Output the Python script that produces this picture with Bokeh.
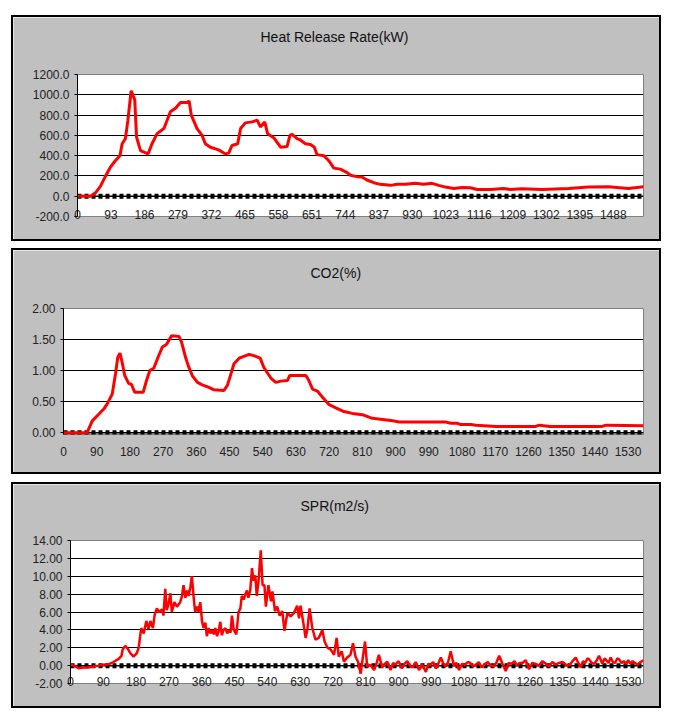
from bokeh.plotting import figure
from bokeh.models import FixedTicker, Span, PrintfTickFormatter, Range1d, Title
from bokeh.layouts import column
from bokeh.embed import file_html
from bokeh.resources import INLINE

# ---------------- data (time s, value) ----------------
hrr = [(0, 0), (36, 0), (50, 33), (64, 100), (78, 200), (92, 290), (105, 350), (118, 400),
       (124, 517), (133, 567), (140, 750), (149, 1040), (159, 950), (164, 583), (175, 450),
       (196, 417), (207, 517), (221, 617), (240, 667), (258, 833), (272, 867), (286, 923),
       (305, 923), (310, 940), (316, 800), (332, 667), (346, 600), (355, 517), (369, 483),
       (392, 457), (411, 417), (420, 425), (429, 500), (445, 517), (453, 667), (466, 723),
       (485, 733), (499, 750), (508, 683), (520, 733), (528, 617), (545, 577), (554, 533),
       (564, 483), (582, 490), (590, 600), (596, 610), (610, 567), (618, 557), (633, 517),
       (647, 510), (658, 483), (665, 410), (684, 400), (698, 350), (712, 277), (730, 267),
       (749, 233), (758, 207), (776, 193), (790, 190), (804, 160), (823, 133), (841, 117),
       (869, 107), (888, 117), (911, 117), (938, 127), (961, 117), (985, 127), (1003, 107),
       (1022, 90), (1045, 77), (1068, 87), (1091, 83), (1110, 67), (1147, 67), (1183, 77),
       (1202, 67), (1234, 73), (1290, 67), (1364, 77), (1419, 90), (1475, 93), (1530, 77),
       (1572, 93)]

co2 = [(0, 0), (64, 0), (78, 0.19), (96, 0.30), (109, 0.38), (118, 0.46), (132, 0.62),
       (141, 0.95), (147, 1.21), (153, 1.28), (159, 1.13), (166, 0.92), (177, 0.79),
       (184, 0.78), (193, 0.65), (216, 0.65), (225, 0.84), (234, 1.00), (245, 1.04),
       (256, 1.21), (268, 1.38), (279, 1.42), (293, 1.56), (313, 1.55), (320, 1.46),
       (331, 1.21), (338, 1.08), (349, 0.92), (363, 0.81), (376, 0.77), (394, 0.73),
       (408, 0.69), (435, 0.68), (444, 0.76), (451, 0.89), (462, 1.11), (476, 1.20),
       (489, 1.23), (503, 1.26), (516, 1.24), (533, 1.20), (543, 1.05), (562, 0.88),
       (575, 0.81), (589, 0.83), (607, 0.84), (613, 0.92), (657, 0.92), (665, 0.84),
       (675, 0.70), (688, 0.67), (702, 0.57), (720, 0.45), (738, 0.40), (760, 0.34),
       (783, 0.31), (810, 0.29), (837, 0.23), (865, 0.21), (892, 0.19), (910, 0.17),
       (1036, 0.17), (1050, 0.15), (1068, 0.15), (1077, 0.13), (1104, 0.13), (1118, 0.12),
       (1172, 0.10), (1280, 0.10), (1290, 0.12), (1318, 0.10), (1460, 0.10), (1470, 0.12),
       (1572, 0.11)]

spr = [(0, 0.1), (10, 0.0), (22, -0.3), (35, -0.2), (49, -0.2), (63, -0.1), (77, 0.0),
       (90, 0.1), (104, 0.15), (118, 0.4), (132, 0.75), (140, 1.1), (143, 1.8), (150, 2.2),
       (157, 1.9), (164, 1.4), (173, 1.0), (182, 1.4), (187, 2.0), (194, 4.2), (201, 3.6),
       (208, 5.0), (214, 4.1), (219, 5.0), (226, 4.2), (231, 5.7), (237, 6.4), (243, 6.0),
       (251, 6.3), (255, 5.6), (260, 8.6), (264, 6.2), (269, 6.9), (274, 8.1), (278, 6.0),
       (285, 7.1), (292, 6.6), (301, 7.1), (306, 7.8), (310, 9.0), (315, 7.6), (320, 8.4),
       (324, 7.8), (329, 8.8), (333, 10.0), (338, 7.6), (342, 6.0), (347, 6.6), (351, 6.0),
       (356, 7.1), (361, 4.9), (365, 4.2), (370, 4.8), (374, 3.3), (379, 4.2), (384, 3.6),
       (388, 4.0), (393, 3.5), (397, 4.2), (402, 3.3), (406, 3.8), (411, 4.9), (415, 3.4),
       (420, 4.0), (425, 4.2), (430, 3.6), (434, 4.0), (439, 3.7), (443, 5.6), (448, 4.0),
       (455, 3.5), (461, 6.0), (466, 6.4), (470, 7.8), (475, 7.4), (480, 8.0), (484, 8.4),
       (488, 7.6), (493, 8.4), (498, 10.9), (502, 9.5), (507, 10.1), (511, 7.8), (516, 9.5),
       (522, 12.9), (527, 9.0), (532, 9.0), (536, 6.6), (543, 9.0), (550, 7.2), (554, 8.3),
       (561, 6.1), (567, 6.6), (574, 5.6), (581, 6.1), (587, 3.9), (595, 5.9), (604, 5.5),
       (613, 5.9), (622, 6.7), (627, 5.3), (631, 6.7), (638, 5.0), (645, 3.1), (650, 4.1),
       (656, 6.4), (663, 4.3), (672, 2.9), (681, 3.1), (691, 4.0), (697, 2.7), (705, 2.0),
       (714, 1.8), (723, 1.2), (730, 3.1), (736, 1.0), (744, 1.6), (750, 0.45), (759, 0.9),
       (768, 1.2), (775, 2.5), (782, 1.0), (789, 0.4), (796, -0.9), (803, 1.2), (808, 2.7),
       (814, -0.1), (823, 0.1), (833, -0.5), (840, 0.3), (846, 1.2), (855, -0.2), (862, 0.2),
       (869, 0.45), (878, -0.5), (885, 0.3), (891, 0.1), (900, 0.5), (909, -0.3), (916, 0.2),
       (924, 0.5), (931, 0.0), (938, -0.2), (947, 0.4), (956, -0.5), (965, 0.1), (975, -0.7),
       (982, 0.2), (988, 0.1), (995, 0.4), (1002, -0.3), (1009, 0.2), (1016, 0.9), (1022, 0.3),
       (1029, -0.1), (1036, 0.4), (1043, 1.6), (1052, 0.0), (1059, 0.3), (1066, -0.5),
       (1074, 0.2), (1082, 0.1), (1090, 0.4), (1097, 0.3), (1104, -0.1), (1112, 0.1),
       (1120, 0.4), (1128, -0.2), (1137, 0.2), (1145, 0.4), (1152, 0.0), (1160, -0.1),
       (1168, 0.3), (1176, 1.1), (1185, 0.2), (1194, -0.6), (1202, 0.3), (1210, 0.2),
       (1218, 0.5), (1225, 0.0), (1232, 0.3), (1240, 0.3), (1249, 0.6), (1258, -0.4),
       (1267, 0.3), (1276, 0.2), (1285, 0.0), (1295, 0.5), (1304, 0.2), (1313, -0.1),
       (1322, 0.4), (1331, 0.1), (1340, 0.3), (1350, 0.4), (1359, 0.1), (1368, 0.0),
       (1377, 0.5), (1386, 0.9), (1393, 0.3), (1400, -0.2), (1406, 0.5), (1412, 0.3),
       (1418, 0.8), (1423, 0.7), (1430, 0.3), (1437, 0.2), (1444, 0.6), (1450, 1.1),
       (1459, 0.2), (1465, 0.8), (1470, 0.6), (1476, 0.3), (1482, 0.9), (1488, 0.4),
       (1494, 0.3), (1500, 0.8), (1505, 0.7), (1512, 0.3), (1518, 0.5), (1524, 0.2),
       (1530, 0.6), (1536, 0.2), (1542, 0.5), (1549, 0.3), (1556, 0.1), (1563, 0.4),
       (1572, 0.6)]

hrr_title = "Heat Release Rate(kW)"
co2_title = "CO2(%)"
spr_title = "SPR(m2/s)"
hrr_xticks = [0, 93, 186, 279, 372, 465, 558, 651, 744, 837, 930, 1023, 1116, 1209, 1302, 1395, 1488]
sec_xticks = [0, 90, 180, 270, 360, 450, 540, 630, 720, 810, 900, 990, 1080, 1170, 1260, 1350, 1440, 1530]
hrr_yticks = [-200, 0, 200, 400, 600, 800, 1000, 1200]
co2_yticks = [0, 0.5, 1.0, 1.5, 2.0]
spr_yticks = [-2, 0, 2, 4, 6, 8, 10, 12, 14]

FONT = "Liberation Sans"


def panel(title, data, xticks, yticks, ygrid, yrange, fmt, ml, mt, mb, xstand, toff, spacer, margin, lw):
    p = figure(width=650, height=226, x_range=Range1d(0, 1572), y_range=Range1d(*yrange),
               output_backend="svg", toolbar_location=None,
               min_border_left=ml, min_border_right=20, min_border_top=mt, min_border_bottom=mb,
               border_fill_color="#c0c0c0", background_fill_color="white",
               outline_line_color="#808080")
    p.styles = {"border": "2px solid black", "outline": "1px solid #f4f4f4",
                "outline-offset": "-3px"}
    p.margin = margin

    # blank spacer keeps the chart title well above the plot area
    p.add_layout(Title(text=" ", text_font_size="2px", standoff=spacer), "above")
    p.add_layout(Title(text=title, align="left", offset=toff, standoff=0, vertical_align="bottom",
                       text_font=FONT, text_font_size="14px", text_font_style="normal",
                       text_color="#111111"), "above")

    p.xgrid.visible = False
    p.ygrid.ticker = FixedTicker(ticks=ygrid)
    p.ygrid.grid_line_color = "black"
    p.ygrid.grid_line_width = 1

    xa = p.xaxis[0]
    xa.ticker = FixedTicker(ticks=xticks)
    xa.axis_line_color = None
    xa.major_tick_line_color = None
    xa.minor_tick_line_color = None
    xa.major_tick_out = 0
    xa.major_label_standoff = xstand
    xa.major_label_text_font = FONT
    xa.major_label_text_font_size = "12px"
    xa.major_label_text_color = "#222222"

    ya = p.yaxis[0]
    ya.ticker = FixedTicker(ticks=yticks)
    ya.formatter = PrintfTickFormatter(format=fmt)
    ya.axis_line_color = "black"
    ya.major_tick_line_color = "black"
    ya.major_tick_out = 3
    ya.major_tick_in = 0
    ya.minor_tick_line_color = None
    ya.major_label_standoff = 5
    ya.major_label_text_font = FONT
    ya.major_label_text_font_size = "12px"
    ya.major_label_text_color = "#222222"

    p.add_layout(Span(location=0, dimension="width", line_color="black", line_width=1.5, level="underlay"))
    p.add_layout(Span(location=0, dimension="width", line_color="black", line_width=5,
                      line_dash="4 3", level="underlay"))

    p.line([a for a, b in data], [b for a, b in data], line_color="#ff0000", line_width=lw)
    return p


p1 = panel(hrr_title, hrr, hrr_xticks, hrr_yticks, [200, 400, 600, 800, 1000],
           (-200, 1200), "%.1f", 64, 57, 27, -7, 183, 26, (15, 0, 0, 11), 3)
p2 = panel(co2_title, co2, sec_xticks, co2_yticks, [0.5, 1.0, 1.5],
           (-0.03, 2.0), "%.2f", 50, 58, 42, 12, 247, 24, (7, 0, 0, 11), 3)
p3 = panel(spr_title, spr, sec_xticks, spr_yticks, [2, 4, 6, 8, 10, 12],
           (-2, 14), "%.2f", 57, 56, 27, -7, 230, 23, (8, 0, 0, 11), 2.5)

layout = column(column(p1), column(p2), column(p3))
open("out.html", "w").write(file_html(layout, INLINE))
